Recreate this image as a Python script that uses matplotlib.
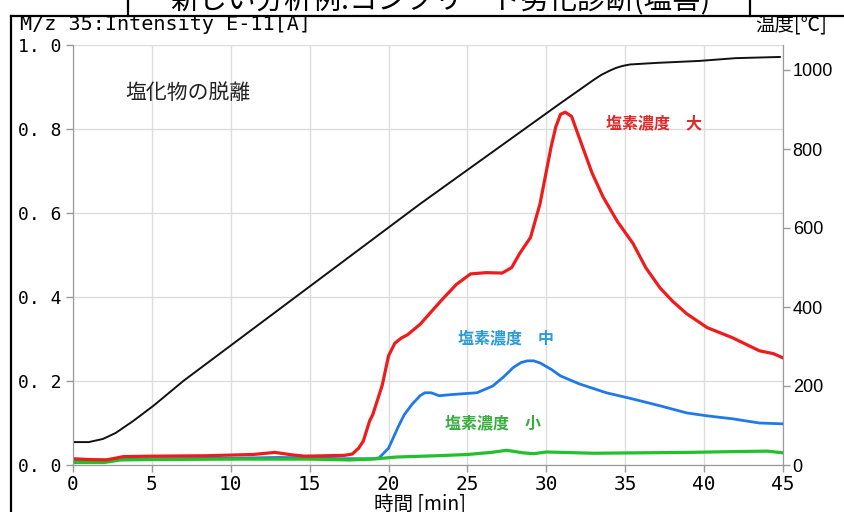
import matplotlib
matplotlib.use("Agg")
import matplotlib.pyplot as plt
from matplotlib.lines import Line2D

plt.rcParams['font.family'] = ['Noto Sans CJK JP', 'DejaVu Sans']

# values
time_red = [0, 1, 2.1, 3.2, 5, 8.4, 11.4, 12.8, 13.9, 14.7, 16, 17.2, 17.7, 18.1, 18.4,
            18.8, 19.0, 19.3, 19.6, 20.0, 20.4, 20.8, 21.2, 22.0, 23.3, 24.3, 25.2, 26.2,
            27.2, 27.8, 28.3, 29.0, 29.6, 29.9, 30.3, 30.6, 30.9, 31.2, 31.6, 32.3, 32.9,
            33.6, 34.5, 35.5, 36.3, 37.2, 38.0, 38.9, 40.2, 41.8, 43.5, 44.4, 45]
red = [0.015, 0.013, 0.012, 0.020, 0.021, 0.022, 0.025, 0.030, 0.024, 0.021, 0.022, 0.023,
       0.026, 0.040, 0.057, 0.105, 0.120, 0.155, 0.190, 0.260, 0.290, 0.302, 0.310, 0.335,
       0.390, 0.430, 0.455, 0.458, 0.457, 0.470, 0.503, 0.542, 0.622, 0.680, 0.757, 0.805,
       0.835, 0.840, 0.830, 0.757, 0.695, 0.638, 0.580, 0.527, 0.470, 0.422, 0.390, 0.360,
       0.327, 0.303, 0.272, 0.265, 0.255]

time_blue = [0, 2, 5, 10, 13, 15, 17, 19.0, 19.4, 20.0, 20.6, 21.0, 21.5, 22.0, 22.3, 22.7,
             23.2, 24.1, 25.6, 26.6, 27.3, 27.9, 28.4, 28.8, 29.2, 29.6, 30.3, 30.9, 32.1,
             33.8, 35.5, 37.2, 38.9, 40.2, 41.8, 43.5, 45]
blue = [0.012, 0.012, 0.015, 0.016, 0.018, 0.017, 0.015, 0.015, 0.017, 0.040, 0.090, 0.120,
        0.145, 0.165, 0.172, 0.172, 0.165, 0.168, 0.172, 0.188, 0.210, 0.232, 0.244, 0.248,
        0.248, 0.243, 0.228, 0.212, 0.193, 0.172, 0.157, 0.141, 0.124, 0.117, 0.110, 0.100,
        0.098]

time_green = [0, 2, 3, 5, 10, 15, 17.5, 19, 20.5, 23, 25, 26.5, 27.5, 28.5, 29.2, 30, 33,
              36, 39, 42, 44, 45]
green = [0.006, 0.006, 0.012, 0.013, 0.014, 0.014, 0.012, 0.014, 0.019, 0.022, 0.025, 0.030,
         0.035, 0.029, 0.027, 0.031, 0.028, 0.029, 0.030, 0.032, 0.033, 0.029]

time_temp = [0, 1, 1.9, 2.7, 3.8, 5.1, 7.0, 22.0, 30.9, 33.0, 33.5, 34.0, 34.4, 34.8, 35.3,
             37.0, 39.7, 42.0, 44.8]
temp = [58, 58, 66, 81, 111, 150, 213, 661, 916, 975, 988, 998, 1005, 1010, 1014, 1018,
        1023, 1030, 1033]

x_ticks = [0, 5, 10, 15, 20, 25, 30, 35, 40, 45]
y_ticks = [0.0, 0.2, 0.4, 0.6, 0.8, 1.0]
y_tick_labels = ["0. 0", "0. 2", "0. 4", "0. 6", "0. 8", "1. 0"]
t_ticks = [0, 200, 400, 600, 800, 1000]

fig = plt.figure(figsize=(8.44, 5.12), dpi=100)
ax = fig.add_axes([73 / 844, 1 - 465 / 512, 710 / 844, 420 / 512])
ax2 = ax.twinx()

ax.plot(time_red, red, color='#ee1c1c', lw=2.3, zorder=4)
ax.plot(time_blue, blue, color='#1f7ae8', lw=2.0, zorder=3)
ax.plot(time_green, green, color='#22c02a', lw=2.3, zorder=3.5)
ax2.plot(time_temp, temp, color='#111111', lw=1.4)

ax.set_xlim(0, 45)
ax.set_ylim(0, 1.0)
ax2.set_ylim(0, 420 / 0.395)

ax.set_xticks(x_ticks)
ax.set_xticklabels([str(v) for v in x_ticks], family='DejaVu Sans Mono', fontsize=14)
ax.set_yticks(y_ticks)
ax.set_yticklabels(y_tick_labels, family='DejaVu Sans Mono', fontsize=13)
ax2.set_yticks(t_ticks)
ax2.set_yticklabels([str(v) for v in t_ticks], family='Liberation Sans', fontsize=13)

ax.grid(True, color='#dcdcdc', lw=1.0)
ax.set_axisbelow(True)
for a in (ax, ax2):
    a.spines['top'].set_visible(False)
    for s in ('left', 'right', 'bottom'):
        a.spines[s].set_color('#9a9a9a')
ax.tick_params(axis='both', direction='out', length=5, color='#9a9a9a', width=1)
ax.tick_params(axis='x', pad=2)
ax2.tick_params(axis='y', direction='out', length=5, color='#9a9a9a', width=1, pad=2)

ax.text(3.3, 0.885, '塩化物の脱離', fontsize=15, color='#222222', va='center')
ax.text(33.8, 0.813, '塩素濃度　大', fontsize=11.5, color='#e02828', va='center',
        fontweight='bold')
ax.text(24.4, 0.302, '塩素濃度　中', fontsize=11.5, color='#2a9ad8', va='center',
        fontweight='bold')
ax.text(23.6, 0.1, '塩素濃度　小', fontsize=11.5, color='#38ad3e', va='center',
        fontweight='bold')

# header row and frame
fig.text(20 / 844, 1 - 25 / 512, 'M/z 35:Intensity E-11[A]', family='DejaVu Sans Mono',
         fontsize=14.5, va='center', ha='left')
fig.text(755 / 844, 1 - 25 / 512, '温度[℃]', fontsize=14, va='center', ha='left')
fig.text(440 / 844, 1 - 0 / 512, '新しい分析例:コンクリート劣化診断(塩害)', fontsize=20.5,
         va='center', ha='center')
fig.text(420 / 844, 1 - 504 / 512, '時間 [min]', fontsize=14, va='center', ha='center')

def frame_line(xs, ys):
    fig.add_artist(Line2D([x / 844 for x in xs], [1 - y / 512 for y in ys],
                          color='black', lw=1.6))

frame_line([11, 844], [16, 16])
frame_line([11, 11], [16, 512])
frame_line([128, 128], [0, 16])
frame_line([750, 750], [0, 16])

fig.savefig('out.png', dpi=100)
